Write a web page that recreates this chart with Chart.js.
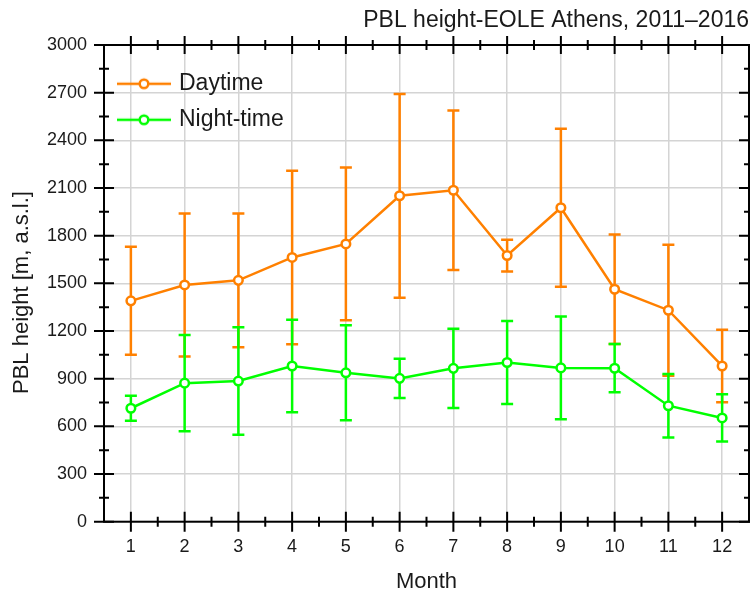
<!DOCTYPE html>
<html>
<head>
<meta charset="utf-8">
<script src="https://cdn.jsdelivr.net/npm/chart.js@4/dist/chart.umd.min.js"></script>
<style>
html,body{margin:0;padding:0;background:#ffffff;}
#wrap{width:750px;height:594px;}
</style>
</head>
<body>
<div id="wrap"><canvas id="c" width="750" height="594"></canvas></div>
<script>
// ---- data ----
const months = [1, 2, 3, 4, 5, 6, 7, 8, 9, 10, 11, 12];
const dayMean = [1390, 1490, 1519, 1663, 1748, 2051, 2086, 1675, 1976, 1463, 1331, 980];
const daySD   = [340, 450, 421, 546, 481, 641, 502, 100, 497, 345, 412, 228];
const nightMean = [714, 872, 885, 980, 937, 902, 965, 1002, 968, 966, 730, 653];
const nightSD   = [78, 303, 338, 291, 299, 124, 250, 261, 324, 152, 200, 149];
const yTickValues = [0, 300, 600, 900, 1200, 1500, 1800, 2100, 2400, 2700, 3000];
const seriesNames = ['Daytime', 'Night-time'];
const titleText = 'PBL height-EOLE Athens, 2011\u20132016';
const xTitle = 'Month';
const yTitle = 'PBL height [m, a.s.l.]';

const ORANGE = '#ff8000';
const GREEN = '#00ff00';
const FONT = "'Liberation Sans', Arial, sans-serif";
const TEXT = '#1a1a1a';

function legendSymbol(color) {
  const cv = document.createElement('canvas');
  cv.width = 56; cv.height = 14;
  const g = cv.getContext('2d');
  g.strokeStyle = color; g.lineWidth = 2.5;
  g.beginPath(); g.moveTo(1, 7); g.lineTo(55, 7); g.stroke();
  g.beginPath(); g.arc(28, 7, 4.3, 0, Math.PI * 2);
  g.fillStyle = '#ffffff'; g.fill(); g.stroke();
  return cv;
}
const legendSymbols = [legendSymbol(ORANGE), legendSymbol(GREEN)];
const sdArrays = [daySD, nightSD];

const errorBarPlugin = {
  id: 'errorBars',
  beforeDatasetDraw(chart, args) {
    const ds = chart.data.datasets[args.index];
    const sd = sdArrays[args.index];
    const y = chart.scales.y;
    const ctx = chart.ctx;
    ctx.save();
    ctx.strokeStyle = ds.borderColor;
    ctx.lineWidth = 2.5;
    args.meta.data.forEach((pt, i) => {
      const v = ds.data[i].y;
      const yt = y.getPixelForValue(v + sd[i]);
      const yb = y.getPixelForValue(v - sd[i]);
      const x = pt.x;
      ctx.beginPath();
      ctx.moveTo(x, yt); ctx.lineTo(x, yb);
      ctx.moveTo(x - 6, yt); ctx.lineTo(x + 6, yt);
      ctx.moveTo(x - 6, yb); ctx.lineTo(x + 6, yb);
      ctx.stroke();
    });
    ctx.restore();
  }
};

const framePlugin = {
  id: 'frame',
  afterLayout(chart) {
    // pin the plot area to the reference frame
    const a = chart.chartArea;
    const R = 749;
    a.right = R; a.width = a.right - a.left;
    const xs = chart.scales.x;
    xs.right = R; xs.width = xs.right - xs.left;
    xs.configure();
    const lg = chart.legend;
    if (lg) {
      lg.left = 107.5; lg.top = 59.3;
      lg.right = 420; lg.bottom = 300;
    }
  },
  beforeDatasetsDraw(chart) {
    const {ctx, chartArea: a, scales: {x, y}} = chart;
    ctx.save();
    ctx.strokeStyle = '#000000';
    ctx.lineWidth = 2;
    ctx.strokeRect(a.left, a.top, a.right - a.left, a.bottom - a.top);
    ctx.beginPath();
    for (let m = 1; m <= 12; m++) {
      const px = x.getPixelForValue(m);
      ctx.moveTo(px, a.bottom - 10); ctx.lineTo(px, a.bottom + 10);
      ctx.moveTo(px, a.top - 9); ctx.lineTo(px, a.top + 9);
      if (m < 12) {
        const pm = x.getPixelForValue(m + 0.5);
        ctx.moveTo(pm, a.bottom - 5); ctx.lineTo(pm, a.bottom + 5);
        ctx.moveTo(pm, a.top - 5); ctx.lineTo(pm, a.top + 5);
      }
    }
    yTickValues.forEach((v, i) => {
      const py = y.getPixelForValue(v);
      ctx.moveTo(a.left - 10, py); ctx.lineTo(a.left + 10, py);
      ctx.moveTo(a.right - 10, py); ctx.lineTo(a.right + 10, py);
      if (i < yTickValues.length - 1) {
        const pm = y.getPixelForValue(v + 150);
        ctx.moveTo(a.left - 5, pm); ctx.lineTo(a.left + 5, pm);
        ctx.moveTo(a.right - 5, pm); ctx.lineTo(a.right + 5, pm);
      }
    });
    ctx.stroke();
    ctx.restore();
  }
};

const chart = new Chart(document.getElementById('c'), {
  type: 'line',
  data: {
    datasets: [
      {
        label: seriesNames[0],
        data: months.map((m, i) => ({x: m, y: dayMean[i]})),
        borderColor: ORANGE,
        backgroundColor: '#ffffff',
        borderWidth: 2.5,
        pointRadius: 4.3,
        pointBorderWidth: 2.5,
        pointBackgroundColor: '#ffffff',
        pointBorderColor: ORANGE,
        order: 1,
        clip: false
      },
      {
        label: seriesNames[1],
        data: months.map((m, i) => ({x: m, y: nightMean[i]})),
        borderColor: GREEN,
        backgroundColor: '#ffffff',
        borderWidth: 2.5,
        pointRadius: 4.3,
        pointBorderWidth: 2.5,
        pointBackgroundColor: '#ffffff',
        pointBorderColor: GREEN,
        order: 0,
        clip: false
      }
    ]
  },
  options: {
    responsive: false,
    animation: false,
    devicePixelRatio: 1,
    layout: {padding: {left: 0, right: 1, top: 0, bottom: 0}},
    plugins: {
      title: {
        display: true,
        text: titleText,
        align: 'end',
        color: TEXT,
        font: {family: FONT, size: 23, weight: 'normal', lineHeight: 1.2},
        padding: {top: 6.5, bottom: 10.9}
      },
      legend: {
        display: true,
        position: 'chartArea',
        align: 'start',
        labels: {
          usePointStyle: true,
          pointStyleWidth: 47,
          padding: 13,
          color: TEXT,
          font: {family: FONT, size: 23},
          sort: (a, b) => a.datasetIndex - b.datasetIndex,
          generateLabels(chart) {
            const items = Chart.defaults.plugins.legend.labels.generateLabels(chart);
            items.forEach(it => { it.pointStyle = legendSymbols[it.datasetIndex]; });
            return items;
          }
        }
      },
      tooltip: {enabled: false}
    },
    scales: {
      x: {
        type: 'linear',
        min: 0.5,
        max: 12.5,
        afterBuildTicks(scale) { scale.ticks = months.map(v => ({value: v})); },
        afterFit(scale) { scale.height = 72.3; scale.paddingLeft = 0; scale.paddingRight = 0; },
        ticks: {
          color: TEXT,
          padding: 15,
          font: {family: FONT, size: 18},
          callback: (v) => String(v),
          maxRotation: 0,
          autoSkip: false
        },
        grid: {color: '#d4d4d4', lineWidth: 1.5, drawTicks: false},
        border: {display: false},
        title: {
          display: true,
          text: xTitle,
          color: TEXT,
          font: {family: FONT, size: 22},
          padding: {top: 0, bottom: -1.5}
        }
      },
      y: {
        type: 'linear',
        min: 0,
        max: 3000,
        afterBuildTicks(scale) { scale.ticks = yTickValues.map(v => ({value: v})); },
        afterFit(scale) { scale.width = 104; scale.paddingTop = 0; scale.paddingBottom = 0; },
        ticks: {
          color: TEXT,
          padding: 17,
          font: {family: FONT, size: 18},
          callback: (v) => String(v)
        },
        grid: {color: '#d4d4d4', lineWidth: 1.5, drawTicks: false},
        border: {display: false},
        title: {
          display: true,
          text: yTitle + '   ',
          color: TEXT,
          font: {family: FONT, size: 22},
          padding: {top: 9, bottom: 0}
        }
      }
    }
  },
  plugins: [framePlugin, errorBarPlugin]
});
</script>
</body>
</html>
